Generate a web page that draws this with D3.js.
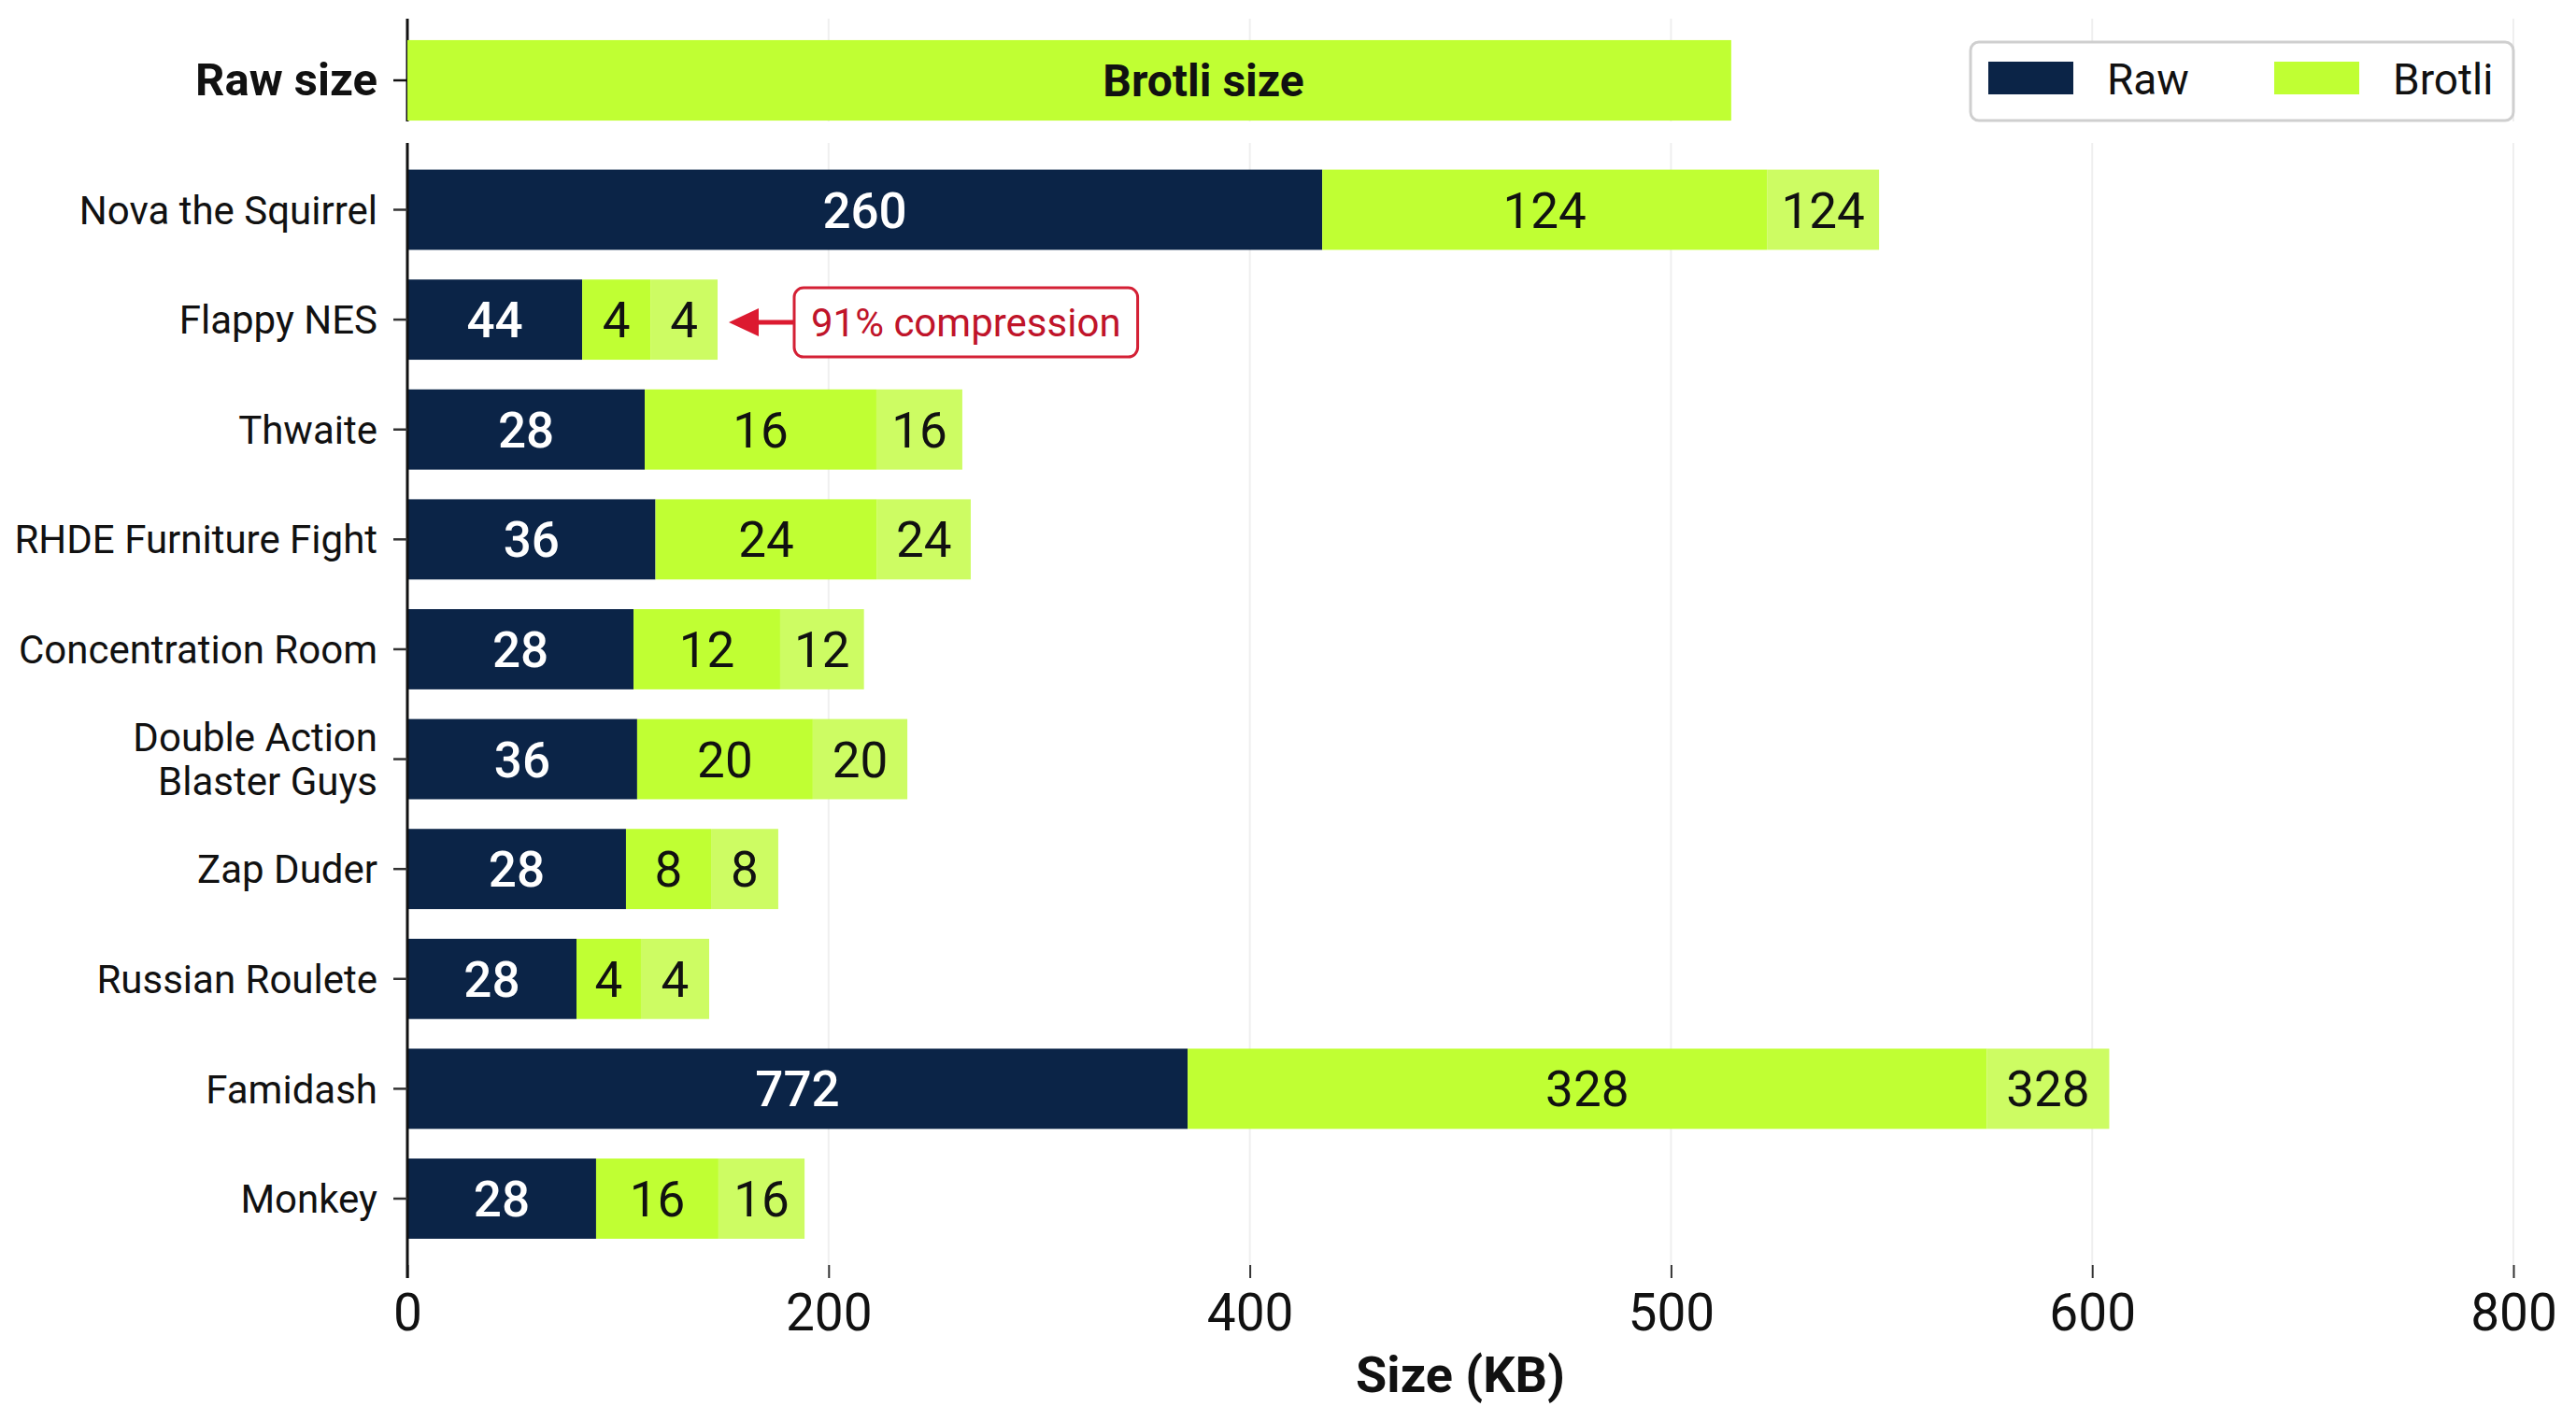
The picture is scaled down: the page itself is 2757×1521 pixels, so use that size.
<!DOCTYPE html>
<html>
<head>
<meta charset="utf-8">
<script src="https://cdn.jsdelivr.net/npm/d3@7"></script>
<style>
  html, body { margin: 0; padding: 0; background: #ffffff; }
  svg { display: block; }
</style>
</head>
<body>
<svg id="chart" width="2757" height="1521"></svg>
<script>
// ---------------- DATA ----------------
const categories = [
  "Nova the Squirrel", "Flappy NES", "Thwaite", "RHDE Furniture Fight",
  "Concentration Room", "Double Action\nBlaster Guys", "Zap Duder",
  "Russian Roulete", "Famidash", "Monkey"
];
// bar segment lengths as read against the (uneven) x axis
const rawLen    = [417.2, 83.0, 112.7, 117.8, 107.4, 109.1, 103.8, 80.3, 370.5, 89.6];
const brotliLen = [105.6, 32.4, 110.0, 105.2, 69.6, 83.4, 40.4, 30.6, 204.5, 58.1];
const extraLen  = [26.6, 31.9, 40.8, 44.5, 39.8, 44.9, 31.9, 32.4, 33.1, 40.9];
// printed value labels
const rawLabels    = [260, 44, 28, 36, 28, 36, 28, 28, 772, 28];
const brotliLabels = [124, 4, 16, 24, 12, 20, 8, 4, 328, 16];

const headerCategory = ["Raw size"];
const headerLen = [514.3];
const headerLabel = "Brotli size";
const headerLabelAt = [378];

const tickValues = [0, 200, 400, 500, 600, 800];
const seriesNames = ["Raw", "Brotli"];
const axisTitle = "Size (KB)";
const annotationText = "91% compression";
const annotationRow = "Flappy NES";

// ---------------- STYLE / LAYOUT ----------------
const FONT = "Roboto, 'Liberation Sans', Arial, sans-serif";
const C_RAW = "#0b2447", C_BROTLI = "#c0ff33", C_EXTRA = "#cdfc63";
const plotLeft = 436, plotRight = 2690;
const panelTop = [20, 130], panelBottom = [153, 1354];

const svg = d3.select("#chart");

// piecewise-linear x scale: tick labels are evenly spaced on the page
const step = (plotRight - plotLeft) / (tickValues.length - 1);
const x = d3.scaleLinear()
  .domain(tickValues)
  .range(tickValues.map((d, i) => plotLeft + i * step));

const y = d3.scaleBand().domain(categories)
  .range([165.7, 1341.8]).paddingInner(0.27).paddingOuter(0.135);
const yTop = d3.scaleBand().domain(headerCategory)
  .range([27, 145]).paddingInner(0.27).paddingOuter(0.135);

// gridlines (two panels)
const grid = svg.append("g");
[panelTop, panelBottom].forEach(([y0, y1]) => {
  grid.selectAll(null).data(tickValues.slice(1)).enter().append("line")
    .attr("x1", d => x(d)).attr("x2", d => x(d))
    .attr("y1", y0).attr("y2", y1)
    .attr("stroke", "#efefef").attr("stroke-width", 2);
});

// x axis (ticks only)
const xAxis = svg.append("g")
  .attr("transform", `translate(0,${panelBottom[1]})`)
  .call(d3.axisBottom(x).tickValues(tickValues).tickFormat(d3.format("d"))
        .tickSize(14).tickPadding(17));
xAxis.select(".domain").remove();
xAxis.selectAll(".tick line").attr("stroke", "#333").attr("stroke-width", 2);
xAxis.selectAll(".tick text")
  .attr("font-family", FONT).attr("font-size", 55).attr("fill", "#111");

svg.append("text")
  .attr("x", (plotLeft + plotRight) / 2).attr("y", 1490)
  .attr("text-anchor", "middle")
  .attr("font-family", FONT).attr("font-size", 54).attr("font-weight", 700)
  .attr("fill", "#111").text(axisTitle);

// ---------- header (top panel) ----------
svg.append("line").attr("x1", plotLeft).attr("x2", plotLeft)
  .attr("y1", panelTop[0]).attr("y2", panelTop[1])
  .attr("stroke", "#111").attr("stroke-width", 3);

svg.selectAll(".hbar").data(headerCategory).enter().append("rect")
  .attr("x", x(0)).attr("y", d => yTop(d))
  .attr("width", (d, i) => x(headerLen[i]) - x(0))
  .attr("height", yTop.bandwidth()).attr("fill", C_BROTLI);

svg.selectAll(".hlabel").data(headerCategory).enter().append("text")
  .attr("x", (d, i) => x(headerLabelAt[i]))
  .attr("y", d => yTop(d) + yTop.bandwidth() / 2)
  .attr("dy", "0.36em").attr("text-anchor", "middle")
  .attr("font-family", FONT).attr("font-size", 48).attr("font-weight", 700)
  .attr("fill", "#111").text(headerLabel);

const yTopAxis = svg.append("g").attr("transform", `translate(${plotLeft},0)`)
  .call(d3.axisLeft(yTop).tickSize(15).tickPadding(17));
yTopAxis.select(".domain").remove();
yTopAxis.selectAll(".tick line").attr("stroke", "#111").attr("stroke-width", 2.5);
yTopAxis.selectAll(".tick text")
  .attr("font-family", FONT).attr("font-size", 49).attr("font-weight", 700).attr("fill", "#111");

// ---------- main panel ----------
const rows = categories.map((c, i) => ({
  cat: c, raw: rawLen[i], brotli: brotliLen[i], extra: extraLen[i],
  rawLabel: rawLabels[i], brotliLabel: brotliLabels[i]
}));
const keys = ["raw", "brotli", "extra"];
const colors = { raw: C_RAW, brotli: C_BROTLI, extra: C_EXTRA };
const stacked = d3.stack().keys(keys)(rows);

const layers = svg.append("g").selectAll("g").data(stacked).enter().append("g")
  .attr("fill", d => colors[d.key]);
layers.selectAll("rect").data(d => d).enter().append("rect")
  .attr("x", d => x(d[0]))
  .attr("y", d => y(d.data.cat))
  .attr("width", d => x(d[1]) - x(d[0]))
  .attr("height", y.bandwidth());

const labelLayers = svg.append("g").selectAll("g").data(stacked).enter().append("g");
labelLayers.selectAll("text").data(s => s.map(d => ({ key: s.key, d }))).enter().append("text")
  .attr("x", o => (x(o.d[0]) + x(o.d[1])) / 2)
  .attr("y", o => y(o.d.data.cat) + y.bandwidth() / 2)
  .attr("dy", "0.36em").attr("text-anchor", "middle")
  .attr("font-family", FONT).attr("font-size", 53)
  .attr("font-weight", o => o.key === "raw" ? 500 : 400)
  .attr("fill", o => o.key === "raw" ? "#ffffff" : "#111111")
  .text(o => o.key === "raw" ? o.d.data.rawLabel : o.d.data.brotliLabel);

// y axis
svg.append("line").attr("x1", plotLeft).attr("x2", plotLeft)
  .attr("y1", panelBottom[0]).attr("y2", panelBottom[1] + 14)
  .attr("stroke", "#111").attr("stroke-width", 3);

const yAxis = svg.append("g").attr("transform", `translate(${plotLeft},0)`)
  .call(d3.axisLeft(y).tickSize(15).tickPadding(17).tickFormat(() => ""));
yAxis.select(".domain").remove();
yAxis.selectAll(".tick line").attr("stroke", "#333").attr("stroke-width", 2.5);
yAxis.selectAll(".tick").each(function (d) {
  const lines = d.split("\n");
  const t = d3.select(this).select("text")
    .attr("font-family", FONT).attr("font-size", 42).attr("fill", "#111")
    .attr("dy", null).attr("y", 0);
  const lh = 47;
  lines.forEach((ln, i) => {
    t.append("tspan").attr("x", -32)
      .attr("y", (i - (lines.length - 1) / 2) * lh)
      .attr("dy", "0.36em").text(ln);
  });
});

// ---------- annotation ----------
const annRow = rows.find(r => r.cat === annotationRow);
const annY = y(annRow.cat) + y.bandwidth() / 2 + 3;
const tipX = x(annRow.raw + annRow.brotli + annRow.extra) + 12;
const red = "#dc1a30";
const ann = svg.append("g");
ann.append("path")
  .attr("d", `M${tipX},${annY} L${tipX + 32},${annY - 15} L${tipX + 32},${annY + 15} Z`)
  .attr("fill", red);
ann.append("line").attr("x1", tipX + 28).attr("x2", tipX + 70)
  .attr("y1", annY).attr("y2", annY).attr("stroke", red).attr("stroke-width", 5);
const annText = ann.append("text")
  .attr("x", tipX + 88).attr("y", annY).attr("dy", "0.36em")
  .attr("font-family", FONT).attr("font-size", 42).attr("fill", "#c0142a")
  .text(annotationText);
const bb = annText.node().getBBox();
ann.insert("rect", "text")
  .attr("x", tipX + 70).attr("y", annY - 37)
  .attr("width", bb.width + 36).attr("height", 74)
  .attr("rx", 10).attr("fill", "#fff").attr("stroke", "#d42035").attr("stroke-width", 3);

// ---------- legend ----------
const lg = svg.append("g");
lg.append("rect").attr("x", 2109).attr("y", 45).attr("width", 581).attr("height", 84)
  .attr("rx", 9).attr("fill", "#fff").attr("stroke", "#cfcfcf").attr("stroke-width", 3);
const legendX = [2128, 2434];
seriesNames.forEach((name, i) => {
  lg.append("rect").attr("x", legendX[i]).attr("y", 66).attr("width", 91).attr("height", 35)
    .attr("fill", i === 0 ? C_RAW : C_BROTLI);
  lg.append("text").attr("x", legendX[i] + 127).attr("y", 101)
    .attr("font-family", FONT).attr("font-size", 46).attr("fill", "#111").text(name);
});
</script>
</body>
</html>
